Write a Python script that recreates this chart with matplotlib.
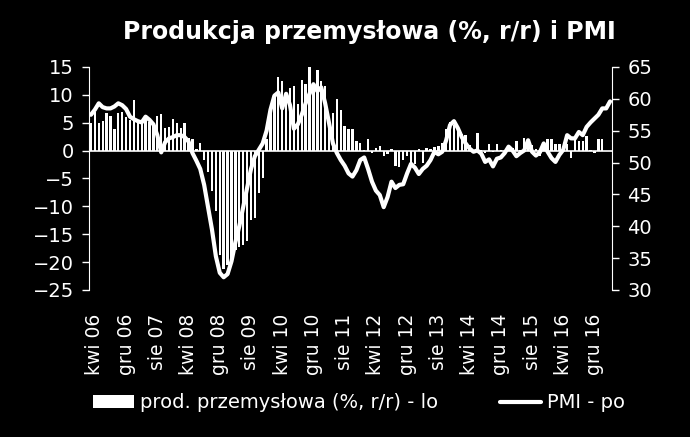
# Produkcja przemyslowa (r/r) i PMI - odtworzenie wykresu

import matplotlib.pyplot as plt
import pandas as pd

months = pd.period_range('2006-03', periods=134, freq='M')

prod = [5.0, 7.0, 5.0, 5.4, 6.8, 6.2, 3.8, 6.7, 7.0, 6.0, 5.5, 9.0, 5.0, 5.2, 5.8, 5.2,
        5.0, 6.2, 6.6, 4.1, 4.3, 5.7, 5.0, 4.0, 5.0, 2.3, 2.0, 0.3, 1.3, -1.6, -3.9, -7.3,
        -10.8, -18.8, -21.2, -20.5, -19.2, -17.8, -17.2, -16.9, -16.3, -12.4, -12.1, -7.6,
        -4.9, 2.0, 7.0, 9.8, 13.2, 12.5, 10.1, 11.3, 11.6, 8.3, 12.6, 11.9, 15.1, 11.3,
        14.4, 12.5, 11.6, 5.9, 6.8, 9.3, 7.2, 4.4, 3.9, 3.9, 1.8, 1.4, 0.1, 2.0, -0.4, 0.5,
        0.9, -1.0, -0.6, 0.3, -2.8, -2.9, -1.7, -1.0, -2.3, -2.4, 0.3, -2.2, 0.4, 0.3, 0.6,
        0.8, 1.4, 3.9, 5.2, 4.6, 4.4, 2.9, 2.8, 1.0, 0.2, 3.1, 0.2, -0.4, 1.1, -0.3, 1.1,
        0.2, -0.2, 0.2, 0.5, 1.8, 0.2, 2.3, 0.8, 1.0, 0.3, -1.0, 0.4, 2.0, 2.0, 1.1, 1.1,
        0.6, 1.2, -1.3, 2.0, 1.7, 1.7, 2.7, 0.1, -0.4, 2.0, 2.0]

pmi = [57.5, 58.3, 59.3, 58.7, 58.5, 58.5, 58.8, 59.3, 59.0, 58.4, 57.2, 56.8, 56.5, 56.3,
       57.2, 56.7, 56.0, 54.3, 51.6, 53.2, 53.8, 54.0, 54.3, 54.3, 54.0, 53.3, 51.5, 50.3,
       49.0, 46.5, 43.0, 39.5, 35.3, 32.7, 32.0, 32.5, 34.5, 37.5, 40.0, 43.0, 46.0, 49.0,
       51.0, 52.0, 53.0, 55.0, 58.3, 60.5, 61.0, 58.5, 60.8, 59.0, 55.3, 56.0, 57.5, 59.3,
       60.8, 62.3, 61.2, 61.8, 59.3, 56.2, 53.0, 51.5, 50.4, 49.5, 48.3, 47.8, 48.8, 50.4,
       50.8, 49.0, 47.0, 45.6, 44.9, 43.0, 44.6, 47.0, 46.0, 46.5, 46.6, 48.3, 49.8, 49.2,
       48.2, 49.0, 49.5, 50.4, 51.7, 51.3, 51.7, 53.5, 55.9, 56.5, 55.4, 54.0, 53.0, 52.2,
       51.7, 51.9, 51.4, 50.1, 50.5, 49.4, 50.6, 50.8, 51.5, 52.5, 51.9, 51.0, 51.5, 51.9,
       53.5, 51.7, 51.1, 51.6, 53.0, 51.7, 50.7, 50.1, 51.2, 52.0, 54.3, 53.8, 53.8, 54.8,
       54.3, 55.6, 56.3, 56.9, 57.5, 58.5, 58.5, 59.6]

tick_months = ['2006-04', '2006-12', '2007-08', '2008-04', '2008-12', '2009-08',
               '2010-04', '2010-12', '2011-08', '2012-04', '2012-12', '2013-08',
               '2014-04', '2014-12', '2015-08', '2016-04', '2016-12']
tick_labels = ['kwi 06', 'gru 06', 'sie 07', 'kwi 08', 'gru 08', 'sie 09', 'kwi 10',
               'gru 10', 'sie 11', 'kwi 12', 'gru 12', 'sie 13', 'kwi 14', 'gru 14',
               'sie 15', 'kwi 16', 'gru 16']

plt.rcParams['font.family'] = ['DejaVu Sans']

fig = plt.figure(figsize=(6.9, 4.37), dpi=100, facecolor='black')
ax = fig.add_axes([0.129, 0.3364, 0.758, 0.5103], facecolor='black')
ax2 = ax.twinx()

x = list(range(len(months)))
bars = ax.bar(x[:len(prod)], prod, width=0.6, color='white', linewidth=0,
              label='prod. przemysłowa (%, r/r) - lo')
ax.axhline(0, color='white', lw=1.2)
line, = ax2.plot(x[:len(pmi)], pmi, color='white', lw=3, solid_joinstyle='round',
                 solid_capstyle='round', label='PMI - po')

ax.set_xlim(-0.5, len(months) - 0.5)
ax.set_ylim(-25, 15)
ax.set_yticks(range(-25, 16, 5))
ax2.set_ylim(30, 65)
ax2.set_yticks(range(30, 66, 5))

tick_pos = [months.get_loc(pd.Period(m, freq='M')) for m in tick_months]
ax.set_xticks(tick_pos)
ax.set_xticklabels(tick_labels, rotation=90, color='white', fontsize=13.5)
ax.tick_params(axis='x', length=0, pad=17)

for a in (ax, ax2):
    for s in ('top', 'bottom'):
        a.spines[s].set_visible(False)
    a.spines['left'].set_color('white')
    a.spines['right'].set_color('white')
    a.tick_params(axis='y', colors='white', labelsize=14, length=5, width=1,
                  direction='out', pad=6)
ax.spines['right'].set_visible(False)
ax2.spines['left'].set_visible(False)

fig.text(0.536, 0.927, 'Produkcja przemysłowa (%, r/r) i PMI', color='white',
         fontsize=17, fontweight='bold', ha='center', va='center')

leg = fig.legend(handles=[bars, line], loc='center', bbox_to_anchor=(0.52, 0.078),
                 ncol=2, frameon=False, fontsize=14, handlelength=2.1,
                 handleheight=0.65, handletextpad=0.3, columnspacing=3.2)
for t in leg.get_texts():
    t.set_color('white')

plt.savefig('out.png', dpi=100, facecolor='black')
